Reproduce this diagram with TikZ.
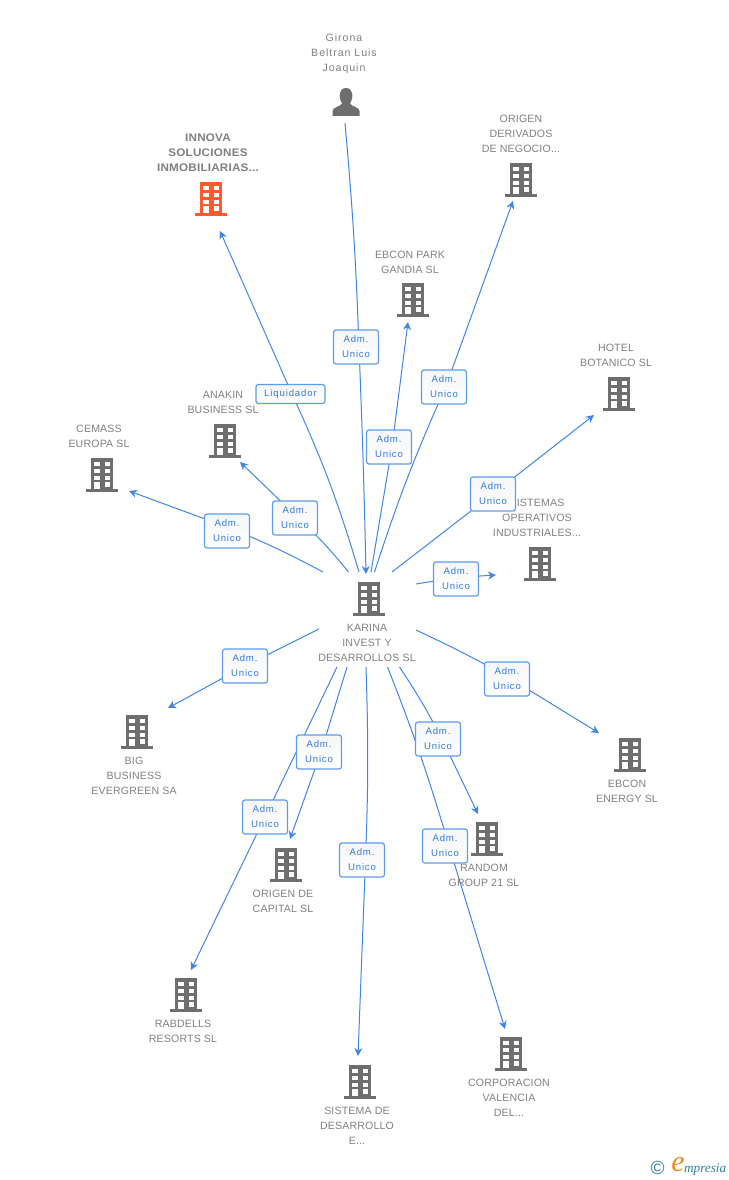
\documentclass[tikz,border=0pt]{standalone}
\usepackage{fontspec}
\setmainfont{Liberation Sans}
\newfontfamily\boxfont[LetterSpace=9]{Liberation Sans}
\newfontfamily\labfont[LetterSpace=1.5]{Liberation Sans}
\newfontfamily\namefont[LetterSpace=9]{Liberation Sans}
\newfontfamily\boldfont[LetterSpace=2,FakeStretch=1.06]{Liberation Sans Bold}
\newfontfamily\logofont{Liberation Serif}
\usetikzlibrary{arrows.meta,backgrounds}
\definecolor{linkblue}{HTML}{3F86E6}
\definecolor{boxedge}{HTML}{5E9CEA}
\definecolor{textblue}{HTML}{2F7BDD}
\definecolor{icongrey}{HTML}{6E6E6E}
\definecolor{labelgrey}{HTML}{808080}
\definecolor{hot}{HTML}{FF5B2E}
\definecolor{logoteal}{HTML}{2E7F96}
\definecolor{logoorange}{HTML}{F28A1E}
\definecolor{boxtop}{HTML}{F6F6F6}
\tikzset{
  bld/.pic={
    \fill[pic actions] (-11,-17) rectangle (11,14);
    \fill[pic actions] (-16,14) rectangle (16,16.5);
    \foreach \r in {-13.5,-6.5,0.5}{
      \fill[white] (-8,\r) rectangle (-2.5,\r+4.6);
      \fill[white] (2.5,\r) rectangle (8,\r+4.6);
    }
    \fill[white] (2.5,7.2) rectangle (8,11.8);
    \fill[white] (-8,7.2) rectangle (-2.5,14);
  },
  person/.pic={
    \fill[pic actions] (-13.5,14) -- (-13.5,9) .. controls (-13.5,5) and (-5,4.5) .. (-4,1.5)
      .. controls (-8,-5) and (-7,-14) .. (0,-14) .. controls (7,-14) and (8,-5) .. (4,1.5)
      .. controls (5,4.5) and (13.5,5) .. (13.5,9) -- (13.5,14) -- cycle;
  },
  iconbox/.style={inner sep=0pt,minimum width=30pt,minimum height=34pt},
  lab/.style={font=\labfont\fontsize{10.6pt}{15pt}\selectfont,text=labelgrey,align=center,inner sep=0pt},
  namelab/.style={font=\namefont\fontsize{10.6pt}{15pt}\selectfont,text=labelgrey,align=center,inner sep=0pt},
  boldlab/.style={font=\boldfont\fontsize{11pt}{15pt}\selectfont,text=labelgrey,align=center,inner sep=0pt},
  rolebox/.style={draw=boxedge,line width=1.2pt,rounded corners=2.5pt,top color=boxtop,bottom color=white,text=textblue,
    font=\boxfont\fontsize{9.6pt}{15pt}\selectfont,align=center,inner sep=0pt,
    minimum width=45pt,minimum height=34pt},
  widebox/.style={rolebox,minimum width=69pt,minimum height=19pt},
  conn/.style={draw=linkblue,line width=1pt},
  arrowconn/.style={conn,-{Stealth[length=8pt,width=8pt]}},
}
\begin{document}
\begin{tikzpicture}[x=1pt,y=-1pt]
\useasboundingbox (0,0) rectangle (728,1180);

% icons
\node[iconbox] (karina) at (369,599) {};
\node[iconbox] (girona) at (346,102) {};
\node[iconbox] (innova) at (211,199) {};
\node[iconbox] (origen) at (521,180) {};
\node[iconbox] (park) at (413,300) {};
\node[iconbox] (hotel) at (619,394) {};
\node[iconbox] (anakin) at (225,441) {};
\node[iconbox] (cemass) at (102,475) {};
\node[iconbox] (sistemas) at (540,564) {};
\node[iconbox] (big) at (137,732) {};
\node[iconbox] (capital) at (286,865) {};
\node[iconbox] (random) at (487,839) {};
\node[iconbox] (energy) at (630,755) {};
\node[iconbox] (rabdells) at (186,995) {};
\node[iconbox] (sisdes) at (360,1082) {};
\node[iconbox] (corp) at (511,1054) {};
\pic[fill=icongrey] at (karina) {bld};
\pic[fill=icongrey] at (girona) {person};
\pic[fill=hot] at (innova) {bld};
\foreach \n in {origen,park,hotel,anakin,cemass,sistemas,big,capital,random,energy,rabdells,sisdes,corp}
  \pic[fill=icongrey] at (\n) {bld};

% texts
\node[namelab] (tgirona) at (344,54) {Girona\\Beltran Luis\\Joaquin};
\node[boldlab] (tinnova) at (208,153) {INNOVA\\SOLUCIONES\\INMOBILIARIAS...};
\node[lab] (torigen) at (521,134) {ORIGEN\\DERIVADOS\\DE NEGOCIO...};
\node[lab] (tpark) at (410,262.5) {EBCON PARK\\GANDIA SL};
\node[lab] (thotel) at (616,355.5) {HOTEL\\BOTANICO SL};
\node[lab] (tanakin) at (223,402.5) {ANAKIN\\BUSINESS SL};
\node[lab] (tcemass) at (99,436.5) {CEMASS\\EUROPA SL};
\node[lab] (tsistemas) at (537,518) {SISTEMAS\\OPERATIVOS\\INDUSTRIALES...};
\node[lab] (tkarina) at (367,643) {KARINA\\INVEST Y\\DESARROLLOS SL};
\node[lab] (tbig) at (134,776) {BIG\\BUSINESS\\EVERGREEN SA};
\node[lab] (tcapital) at (283,901.5) {ORIGEN DE\\CAPITAL SL};
\node[lab] (trandom) at (484,875.5) {RANDOM\\GROUP 21 SL};
\node[lab] (tenergy) at (627,791.5) {EBCON\\ENERGY SL};
\node[lab] (trabdells) at (183,1031.5) {RABDELLS\\RESORTS SL};
\node[lab] (tsisdes) at (357,1126) {SISTEMA DE\\DESARROLLO\\E...};
\node[lab] (tcorp) at (509,1098) {CORPORACION\\VALENCIA\\DEL...};

% role boxes
\node[rolebox] (bgirona) at (356,347) {Adm.\\Unico};
\node[widebox] (binnova) at (290.5,394) {Liquidador};
\node[rolebox] (borigen) at (444,387) {Adm.\\Unico};
\node[rolebox] (bpark) at (389,447) {Adm.\\Unico};
\node[rolebox] (bhotel) at (493,494) {Adm.\\Unico};
\node[rolebox] (banakin) at (295,518) {Adm.\\Unico};
\node[rolebox] (bcemass) at (227,531) {Adm.\\Unico};
\node[rolebox] (bsistemas) at (456,579) {Adm.\\Unico};
\node[rolebox] (bbig) at (245,666) {Adm.\\Unico};
\node[rolebox] (bcapital) at (319,752) {Adm.\\Unico};
\node[rolebox] (brabdells) at (265,817) {Adm.\\Unico};
\node[rolebox] (bsisdes) at (362,860) {Adm.\\Unico};
\node[rolebox] (bcorp) at (445,846) {Adm.\\Unico};
\node[rolebox] (brandom) at (438,739) {Adm.\\Unico};
\node[rolebox] (benergy) at (507,679) {Adm.\\Unico};

% free ends
\coordinate (sgirona) at (345,123);
\coordinate (egirona) at (366,574);
\coordinate (sinnova) at (359,572);
\coordinate (einnova) at (220,231);
\coordinate (sorigen) at (374.5,572);
\coordinate (eorigen) at (513,201);
\coordinate (spark) at (371,572);
\coordinate (epark) at (408,322);
\coordinate (shotel) at (392,572);
\coordinate (ehotel) at (594,415);
\coordinate (ssistemas) at (416,584);
\coordinate (esistemas) at (496,575);
\coordinate (sanakin) at (348.5,572);
\coordinate (eanakin) at (240,462);
\coordinate (scemass) at (323,572);
\coordinate (ecemass) at (129,491);
\coordinate (sbig) at (319,629);
\coordinate (ebig) at (168,708);
\coordinate (scapital) at (347,667);
\coordinate (ecapital) at (290,839);
\coordinate (srabdells) at (337,667);
\coordinate (erabdells) at (191,970);
\coordinate (ssisdes) at (366,667);
\coordinate (esisdes) at (358,1056);
\coordinate (scorp) at (387.5,667);
\coordinate (ecorp) at (505,1029);
\coordinate (srandom) at (399.5,667);
\coordinate (erandom) at (478,814);
\coordinate (senergy) at (416,630);
\coordinate (eenergy) at (599,733);

\begin{scope}[on background layer]
\draw[arrowconn] (sgirona) to[bend left=1.5] ([xshift=3pt]bgirona.center) to[bend left=0.5] (egirona);
\draw[arrowconn] (sinnova) to[bend right=4] ([xshift=1.5pt]binnova.center) -- (einnova);
\draw[arrowconn] (sorigen) to[bend left=3] ([xshift=1.7pt]borigen.center) -- (eorigen);
\draw[arrowconn] (spark) -- ([xshift=3pt]bpark.center) -- (epark);
\draw[arrowconn] (shotel) -- (bhotel.center) -- (ehotel);
\draw[arrowconn] (ssistemas) -- ([yshift=1.5pt]bsistemas.center) -- (esistemas);
\draw[arrowconn] (sanakin) to[bend right=4] ([yshift=3pt]banakin.center) -- (eanakin);
\draw[arrowconn] (scemass) to[bend right=3] ([yshift=4pt]bcemass.center) -- (ecemass);
\draw[arrowconn] (sbig) -- (bbig.center) -- (ebig);
\draw[arrowconn] (scapital) -- ([xshift=2pt]bcapital.center) -- (ecapital);
\draw[arrowconn] (srabdells) -- (brabdells.center) -- (erabdells);
\draw[arrowconn] (ssisdes) to[bend left=2] ([xshift=3.5pt]bsisdes.center) -- (esisdes);
\draw[arrowconn] (scorp) to[bend left=2.5] ([xshift=4pt]bcorp.center) -- (ecorp);
\draw[arrowconn] (srandom) to[bend left=3] ([xshift=4pt]brandom.center) -- (erandom);
\draw[arrowconn] (senergy) to[bend left=2] ([yshift=2.5pt]benergy.center) -- (eenergy);
\end{scope}

% logo
\node[inner sep=0pt,text=logoteal,font=\fontsize{19pt}{19pt}\selectfont] (copyr) at (657.5,1168) {©};
\node[inner sep=0pt,text=logoorange,font=\logofont\itshape\fontsize{30pt}{30pt}\selectfont] (logoe) at (678,1165) {e};
\node[inner sep=0pt,anchor=west,text=logoteal,font=\logofont\itshape\fontsize{13.2pt}{13.2pt}\selectfont] (logom) at (684,1170) {mpresia};
\end{tikzpicture}
\end{document}
